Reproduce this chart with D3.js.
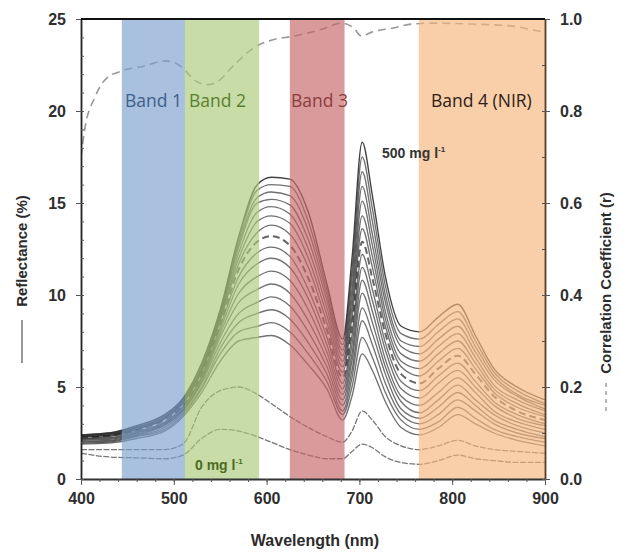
<!DOCTYPE html>
<html>
<head>
<meta charset="utf-8">
<script src="https://cdn.jsdelivr.net/npm/d3@7"></script>
<style>
  html, body { margin: 0; padding: 0; background: #fff; }
  svg { display: block; }
</style>
</head>
<body>
<svg id="chart" width="620" height="554"></svg>
<script>
// === Datos ===
const wavelengths = [400, 430, 460, 490, 510, 530, 550, 570, 590, 605, 625, 645, 665, 682,
                     692, 703, 714, 728, 745, 765, 785, 806, 825, 845, 870, 900];

// reflectancia (%) de las 16 curvas del haz, una fila por longitud de onda (de 500 mg/l hacia abajo)
const bundleRows = [
  [2.4, 2.4, 2.35, 2.35, 2.3, 2.3, 2.3, 2.25, 2.2, 2.2, 2.15, 2.1, 2.05, 2.0, 1.95, 1.9],
  [2.5, 2.5, 2.45, 2.45, 2.4, 2.4, 2.35, 2.35, 2.3, 2.25, 2.2, 2.15, 2.1, 2.05, 2.0, 1.95],
  [2.9, 2.85, 2.8, 2.8, 2.75, 2.7, 2.7, 2.65, 2.6, 2.55, 2.5, 2.45, 2.4, 2.35, 2.3, 2.2],
  [3.5, 3.45, 3.4, 3.35, 3.3, 3.3, 3.25, 3.2, 3.1, 3.05, 3.0, 2.95, 2.9, 2.8, 2.7, 2.6],
  [4.4, 4.35, 4.3, 4.25, 4.2, 4.15, 4.1, 4.0, 3.95, 3.9, 3.8, 3.75, 3.7, 3.6, 3.5, 3.4],
  [6.3, 6.2, 6.1, 6.0, 5.95, 5.9, 5.8, 5.7, 5.6, 5.5, 5.4, 5.3, 5.2, 5.0, 4.9, 4.7],
  [9.2, 9.1, 9.0, 8.9, 8.8, 8.7, 8.6, 8.4, 8.3, 8.1, 7.9, 7.7, 7.4, 7.1, 6.8, 6.4],
  [13.2, 13.0, 12.8, 12.6, 12.3, 12.0, 11.7, 11.4, 11.0, 10.6, 10.1, 9.6, 9.0, 8.5, 8.0, 7.5],
  [16.0, 15.7, 15.3, 15.0, 14.5, 14.0, 13.4, 12.9, 12.3, 11.7, 11.0, 10.3, 9.6, 9.0, 8.3, 7.7],
  [16.4, 16.0, 15.6, 15.2, 14.8, 14.3, 13.8, 13.2, 12.6, 12.0, 11.3, 10.6, 9.9, 9.2, 8.5, 7.8],
  [16.3, 15.9, 15.4, 14.9, 14.4, 13.9, 13.3, 12.7, 12.1, 11.5, 10.8, 10.1, 9.4, 8.7, 8.0, 7.3],
  [14.5, 14.0, 13.5, 13.0, 12.5, 12.0, 11.5, 10.9, 10.3, 9.8, 9.2, 8.6, 8.0, 7.4, 6.8, 6.2],
  [10.6, 10.3, 10.0, 9.7, 9.3, 8.9, 8.5, 8.1, 7.7, 7.3, 6.9, 6.5, 6.1, 5.7, 5.3, 4.9],
  [7.6, 7.3, 7.0, 6.7, 6.4, 6.1, 5.8, 5.5, 5.2, 4.9, 4.6, 4.3, 4.0, 3.7, 3.5, 3.2],
  [12.0, 11.4, 10.9, 10.3, 9.8, 9.3, 8.8, 8.3, 7.8, 7.3, 6.8, 6.4, 5.9, 5.5, 5.0, 4.5],
  [18.3, 17.5, 16.7, 15.9, 15.1, 14.3, 13.6, 12.9, 12.2, 11.5, 10.8, 10.1, 9.3, 8.6, 7.7, 6.8],
  [15.4, 14.7, 14.0, 13.3, 12.7, 12.1, 11.5, 10.9, 10.3, 9.7, 9.1, 8.5, 7.9, 7.3, 6.6, 5.9],
  [11.0, 10.5, 10.0, 9.6, 9.1, 8.7, 8.3, 7.9, 7.4, 7.0, 6.5, 6.1, 5.7, 5.2, 4.7, 4.2],
  [8.3, 7.9, 7.5, 7.2, 6.8, 6.4, 6.1, 5.7, 5.3, 4.9, 4.5, 4.2, 3.8, 3.5, 3.2, 2.8],
  [8.0, 7.6, 7.2, 6.8, 6.4, 6.0, 5.6, 5.2, 4.8, 4.4, 4.0, 3.6, 3.3, 3.0, 2.7, 2.4],
  [8.8, 8.4, 8.0, 7.6, 7.2, 6.8, 6.4, 6.0, 5.6, 5.2, 4.7, 4.3, 3.9, 3.5, 3.1, 2.8],
  [9.5, 9.1, 8.7, 8.3, 7.9, 7.5, 7.1, 6.7, 6.3, 5.9, 5.5, 5.1, 4.7, 4.3, 3.9, 3.5],
  [7.8, 7.5, 7.2, 6.9, 6.6, 6.3, 6.0, 5.7, 5.3, 5.0, 4.7, 4.3, 4.0, 3.7, 3.3, 3.0],
  [6.0, 5.8, 5.6, 5.4, 5.1, 4.9, 4.7, 4.5, 4.2, 4.0, 3.7, 3.5, 3.2, 3.0, 2.7, 2.5],
  [5.0, 4.8, 4.6, 4.5, 4.3, 4.1, 3.9, 3.7, 3.5, 3.3, 3.1, 2.9, 2.7, 2.5, 2.3, 2.1],
  [4.3, 4.1, 4.0, 3.8, 3.7, 3.5, 3.4, 3.2, 3.0, 2.9, 2.7, 2.5, 2.3, 2.2, 2.0, 1.8]
];

// las dos curvas bajas (la más baja es 0 mg/l)
const lowCurve1 = [1.6, 1.6, 1.6, 1.6, 1.9, 3.9, 4.8, 5.0, 4.6, 4.1, 3.4, 2.8, 2.3, 2.0,
                   2.6, 3.7, 3.2, 2.3, 1.8, 1.6, 1.8, 2.1, 1.8, 1.6, 1.5, 1.4];
const lowCurve0 = [1.4, 1.2, 1.15, 1.1, 1.3, 2.2, 2.7, 2.6, 2.3, 2.0, 1.6, 1.3, 1.1, 1.1,
                   1.5, 1.9, 1.7, 1.2, 0.9, 0.8, 1.0, 1.3, 1.1, 1.0, 0.9, 0.9];

// coeficiente de correlación (eje derecho)
const corrWl = [400, 404, 415, 428, 444, 469, 490, 507, 524, 535, 548, 565, 586, 605, 630,
                660, 681, 694, 702, 714, 735, 757, 778, 820, 863, 893, 900];
const corrR  = [0.70, 0.76, 0.83, 0.872, 0.887, 0.898, 0.909, 0.898, 0.865, 0.857, 0.865, 0.9,
                0.937, 0.954, 0.963, 0.978, 0.991, 0.98, 0.963, 0.972, 0.98, 0.989, 0.991,
                0.989, 0.985, 0.974, 0.972];

// bandas del sensor
const bandNames  = ['Band 1', 'Band 2', 'Band 3', 'Band 4 (NIR)'];
const bandStart  = [444, 512, 625, 764];
const bandEnd    = [512, 592, 684, 900];
const bandFill   = ['#7b9ecc', '#aac97a', '#c36465', '#f6b57b'];
const bandText   = ['#3f5f8a', '#5b7f2e', '#8e3b3b', '#2d2016'];

const xTicks = [400, 500, 600, 700, 800, 900];
const yTicks = [0, 5, 10, 15, 20, 25];
const rTicks = [0, 0.2, 0.4, 0.6, 0.8, 1.0];

// === Escalas ===
const svg = d3.select('#chart');
const X0 = 81, X1 = 545, Y0 = 479, Y1 = 19;
const x = d3.scaleLinear().domain([400, 900]).range([X0, X1]);
const y = d3.scaleLinear().domain([0, 25]).range([Y0, Y1]);
const yR = d3.scaleLinear().domain([0, 1]).range([Y0, Y1]);

svg.append('defs').append('clipPath').attr('id', 'plotClip')
  .append('rect').attr('x', X0).attr('y', Y1).attr('width', X1 - X0).attr('height', Y0 - Y1);

const plot = svg.append('g').attr('clip-path', 'url(#plotClip)');

// correlación (discontinua)
const corrLine = d3.line().x((d, i) => x(corrWl[i])).y(d => yR(d)).curve(d3.curveMonotoneX);
plot.append('path').attr('d', corrLine(corrR))
  .attr('fill', 'none').attr('stroke', '#999').attr('stroke-width', 1.6)
  .attr('stroke-dasharray', '8,5');

// espectros
const spectra = d3.transpose(bundleRows);
const line = d3.line().x((d, i) => x(wavelengths[i])).y(d => y(d)).curve(d3.curveMonotoneX);

plot.selectAll('path.low').data([lowCurve1, lowCurve0]).join('path')
  .attr('class', 'low').attr('d', line)
  .attr('fill', 'none').attr('stroke', '#555').attr('stroke-opacity', 0.8)
  .attr('stroke-width', 1.3).attr('stroke-dasharray', '6,1.5');

plot.selectAll('path.spec').data(spectra).join('path')
  .attr('class', 'spec').attr('d', line)
  .attr('fill', 'none')
  .attr('stroke', (d, i) => i === 7 ? '#1a1a1a' : '#2e2e2e')
  .attr('stroke-opacity', (d, i) => i === 0 ? 0.9 : 0.68)
  .attr('stroke-width', (d, i) => i === 7 ? 2 : 1.35)
  .attr('stroke-dasharray', (d, i) => i === 7 ? '7,4' : null);

// bandas encima (transparentes, tiñen las curvas)
plot.selectAll('rect.band').data(bandNames).join('rect')
  .attr('class', 'band')
  .attr('x', (d, i) => x(bandStart[i]))
  .attr('width', (d, i) => x(bandEnd[i]) - x(bandStart[i]))
  .attr('y', Y1).attr('height', Y0 - Y1)
  .attr('fill', (d, i) => bandFill[i]).attr('fill-opacity', 0.65);

// === Ejes ===
const tickFont = 'Liberation Sans, Arial, sans-serif';

const gx = svg.append('g').attr('transform', `translate(0,${Y0})`)
  .call(d3.axisBottom(x).tickValues(xTicks).tickSize(6).tickSizeOuter(0).tickPadding(8));
svg.append('g').attr('transform', `translate(0,${Y0})`)
  .call(d3.axisBottom(x).tickValues(d3.range(400, 901, 20)).tickSize(3).tickFormat(''))
  .call(g => g.select('.domain').remove());

const gy = svg.append('g').attr('transform', `translate(${X0},0)`)
  .call(d3.axisLeft(y).tickValues(yTicks).tickSize(5).tickSizeOuter(0).tickPadding(10));
svg.append('g').attr('transform', `translate(${X0},0)`)
  .call(d3.axisLeft(y).tickValues(d3.range(0, 26, 1)).tickSize(-3).tickFormat(''))
  .call(g => g.select('.domain').remove());

const gr = svg.append('g').attr('transform', `translate(${X1},0)`)
  .call(d3.axisRight(yR).tickValues(rTicks).tickSize(5).tickSizeOuter(0).tickPadding(10)
    .tickFormat(d3.format('.1f')));
svg.append('g').attr('transform', `translate(${X1},0)`)
  .call(d3.axisRight(yR).tickValues(d3.range(0, 1.01, 0.1)).tickSize(-3).tickFormat(''))
  .call(g => g.select('.domain').remove());

[gx, gy, gr].forEach(g => {
  g.selectAll('text').attr('font-family', tickFont).attr('font-size', 16)
    .attr('font-weight', 'bold').attr('fill', '#2f2f2f');
});
svg.selectAll('.tick line').attr('stroke', '#555');
gx.select('.domain').attr('stroke', '#333').attr('stroke-width', 2);
gy.select('.domain').attr('stroke', '#222').attr('stroke-width', 1.8);
gr.select('.domain').attr('stroke', '#5b3b22').attr('stroke-width', 1.8);

// marco superior
svg.append('line').attr('x1', X0).attr('x2', X1).attr('y1', Y1).attr('y2', Y1)
  .attr('stroke', '#111').attr('stroke-width', 2);

// === Textos ===
svg.append('text').attr('x', 315).attr('y', 546).attr('text-anchor', 'middle')
  .attr('font-family', tickFont).attr('font-size', 16).attr('font-weight', 'bold')
  .attr('fill', '#2b2b2b').text('Wavelength (nm)');

// eje izquierdo: línea continua + título
const leftT = svg.append('g').attr('transform', 'translate(22,0)');
leftT.append('line').attr('x1', 0).attr('x2', 0).attr('y1', 320).attr('y2', 363)
  .attr('stroke', '#555').attr('stroke-width', 1.2);
leftT.append('text').attr('transform', 'translate(5,251) rotate(-90)')
  .attr('text-anchor', 'middle')
  .attr('font-family', tickFont).attr('font-size', 15).attr('font-weight', 'bold')
  .attr('fill', '#2b2b2b').text('Reflectance (%)');

// eje derecho: línea discontinua + título
const rightT = svg.append('g').attr('transform', 'translate(606,0)');
rightT.append('line').attr('x1', 0).attr('x2', 0).attr('y1', 383).attr('y2', 413)
  .attr('stroke', '#888').attr('stroke-width', 1.2).attr('stroke-dasharray', '4,4');
rightT.append('text').attr('transform', 'translate(5,283) rotate(-90)')
  .attr('text-anchor', 'middle')
  .attr('font-family', tickFont).attr('font-size', 15).attr('font-weight', 'bold')
  .attr('fill', '#2b2b2b').text('Correlation Coefficient (r)');

// nombres de bandas
const bandLabelX = [125, 189, 291, 431];
svg.selectAll('text.bandlab').data(bandNames).join('text')
  .attr('class', 'bandlab')
  .attr('x', (d, i) => bandLabelX[i]).attr('y', 107)
  .attr('font-family', 'Open Sans, sans-serif').attr('font-size', 17.5)
  .attr('fill', (d, i) => bandText[i]).text(d => d);

// etiquetas de concentración
const conc = svg.append('text').attr('x', 382).attr('y', 158)
  .attr('font-family', tickFont).attr('font-size', 14).attr('font-weight', 'bold')
  .attr('fill', '#333');
conc.append('tspan').text('500 mg l');
conc.append('tspan').attr('dy', -6).attr('font-size', 8).text('-1');

const conc0 = svg.append('text').attr('x', 195).attr('y', 470)
  .attr('font-family', tickFont).attr('font-size', 14).attr('font-weight', 'bold')
  .attr('fill', '#4d6b1f');
conc0.append('tspan').text('0 mg l');
conc0.append('tspan').attr('dy', -6).attr('font-size', 8).text('-1');
</script>
</body>
</html>
